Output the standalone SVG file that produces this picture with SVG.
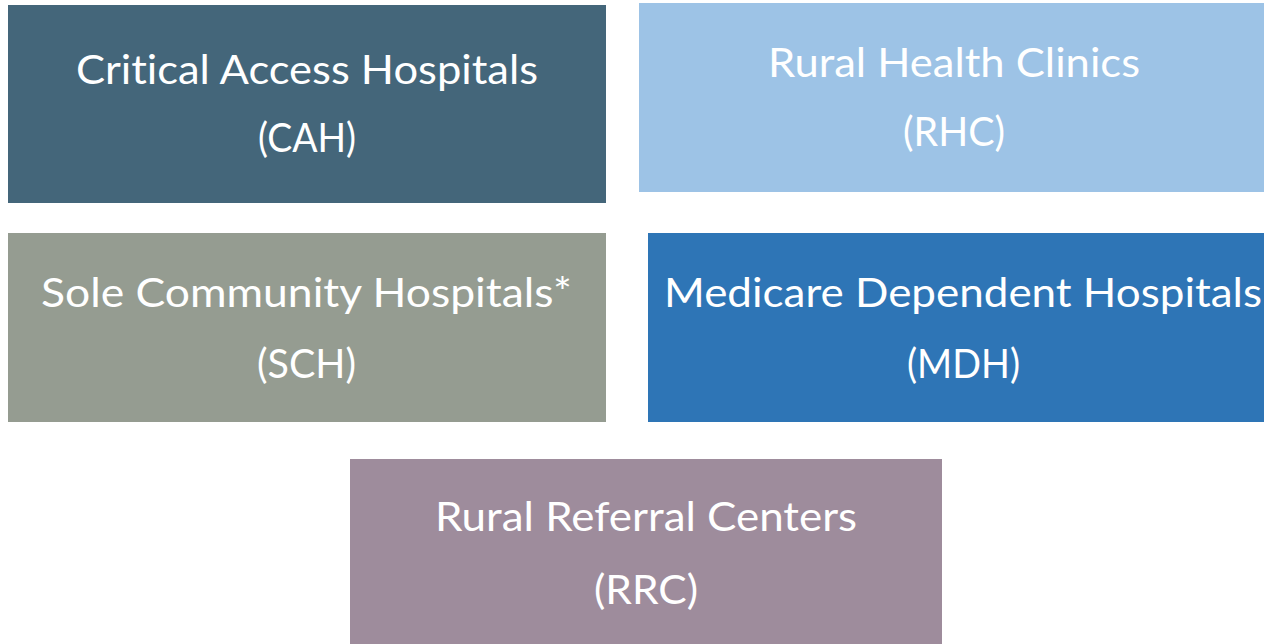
<svg xmlns="http://www.w3.org/2000/svg" width="1264" height="644" viewBox="0 0 1264 644">
  <style>
    .box { stroke: none; }
    .label { font-family: Lato, "Open Sans", sans-serif; font-size: 40px; fill: #ffffff; text-anchor: middle; font-variant-ligatures: none; font-feature-settings: "liga" 0, "clig" 0; }
  </style>
  <rect width="1264" height="644" fill="#ffffff"/>

  <g id="cah">
    <rect class="box" x="8" y="5" width="598" height="198" fill="#44667a"/>
    <text class="label" x="307" y="84" textLength="462" lengthAdjust="spacingAndGlyphs">Critical Access Hospitals</text>
    <text class="label" x="307" y="152" textLength="98" lengthAdjust="spacingAndGlyphs">(CAH)</text>
  </g>

  <g id="rhc">
    <rect class="box" x="639" y="3" width="625" height="189" fill="#9dc3e6"/>
    <text class="label" x="954" y="77" textLength="372" lengthAdjust="spacingAndGlyphs">Rural Health Clinics</text>
    <text class="label" x="954" y="146" textLength="102" lengthAdjust="spacingAndGlyphs">(RHC)</text>
  </g>

  <g id="sch">
    <rect class="box" x="8" y="233" width="598" height="189" fill="#959c91"/>
    <text class="label" x="306.5" y="307" textLength="531" lengthAdjust="spacingAndGlyphs">Sole Community Hospitals*</text>
    <text class="label" x="306.5" y="378" textLength="99" lengthAdjust="spacingAndGlyphs">(SCH)</text>
  </g>

  <g id="mdh">
    <rect class="box" x="648" y="233" width="616" height="189" fill="#2e75b6"/>
    <text class="label" x="963" y="307" textLength="598" lengthAdjust="spacingAndGlyphs">Medicare Dependent Hospitals</text>
    <text class="label" x="963.5" y="378" textLength="113" lengthAdjust="spacingAndGlyphs">(MDH)</text>
  </g>

  <g id="rrc">
    <rect class="box" x="350" y="459" width="592" height="185" fill="#9e8c9c"/>
    <text class="label" x="646" y="531" textLength="422" lengthAdjust="spacingAndGlyphs">Rural Referral Centers</text>
    <text class="label" x="646" y="604" textLength="104" lengthAdjust="spacingAndGlyphs">(RRC)</text>
  </g>

  <g id="connectors"/>
</svg>
